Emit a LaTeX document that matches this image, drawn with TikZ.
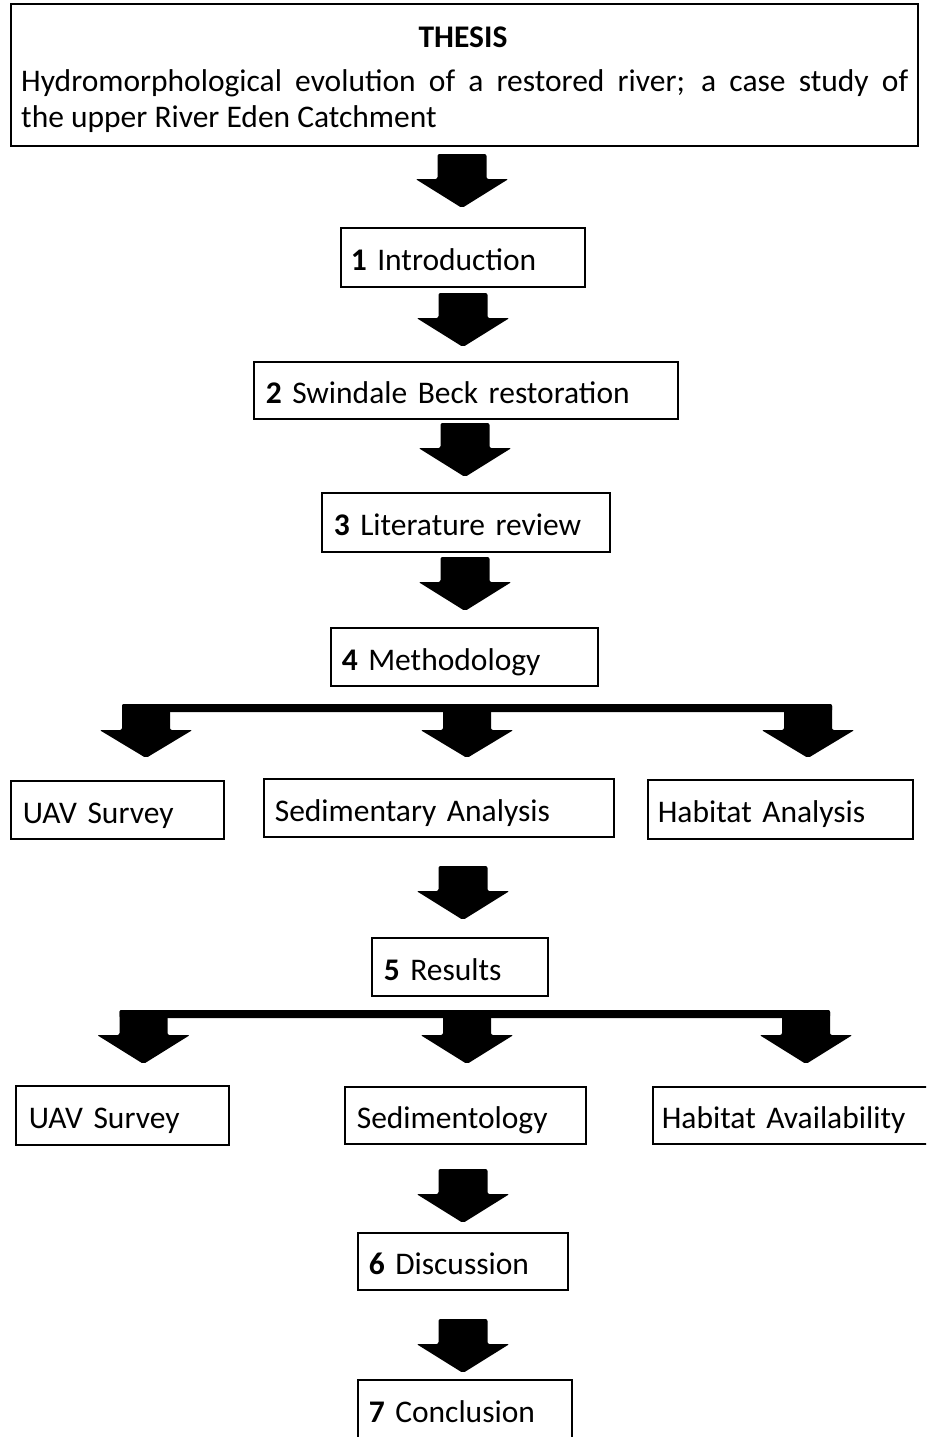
\documentclass[tikz,border=0pt]{standalone}
\usepackage{fontspec}
\setmainfont{Carlito}
\newcommand\blockarrow[2]{%
  \fill[rounded corners=2pt] ({#1-24.5},{#2}) -- ({#1+24.5},{#2}) -- ({#1+24.5},{#2+25}) -- ({#1+46.5},{#2+25}) -- ({#1},{#2+54}) -- ({#1-46.5},{#2+25}) -- ({#1-24.5},{#2+25}) -- cycle;}
\newcommand\shaftarrow[4]{% #1 centre; #2 top; #3 head start; #4 tip
  \fill[rounded corners=2pt] ({#1-24},{#2}) -- ({#1+24},{#2}) -- ({#1+24},{#3}) -- ({#1+46.5},{#3}) -- ({#1},{#4}) -- ({#1-46.5},{#3}) -- ({#1-24},{#3}) -- cycle;}
\newcommand\brancharrows[6]{% #1,#2,#3 centres; #4 bar top; #5 head start; #6 tip
  \fill[rounded corners=2pt] ({#1-24},{#4}) rectangle ({#3+24},{#4+8});
  \shaftarrow{#1}{#4}{#5}{#6}
  \shaftarrow{#2}{#4+4}{#5}{#6}
  \shaftarrow{#3}{#4}{#5}{#6}}
\tikzset{
  txt/.style={font=\fontsize{31.5pt}{38pt}\selectfont},
  tbox/.style={txt, draw, line width=1.6pt, anchor=north west, align=left, inner ysep=0pt,
    text height=27pt, text depth=0pt},
}
\begin{document}
\begin{tikzpicture}[x=1pt,y=-1pt]
\useasboundingbox (0,0) rectangle (926,1437);
\clip (0,0) rectangle (926,1437);
% title
\node[draw, line width=1.6pt, anchor=north west, minimum width=907pt, minimum height=142pt, inner sep=0pt] (thesis) at (10,3) {};
\node[txt, anchor=base, inner sep=0pt] (thesishead) at (463,48) {\bfseries THESIS};
\node[txt, anchor=base west, inner sep=0pt] (thesisl1) at (21,91) {\makebox[887pt][s]{Hydromorphological evolution of a restored river; a case study of}};
\node[txt, anchor=base west, inner sep=0pt] (thesisl2) at (21,127) {the upper River Eden Catchment};
% chain
\blockarrow{462}{154}
\node[tbox, minimum width=244pt, minimum height=59pt, text width=224pt, inner xsep=10pt] (intro) at (340,227) {\textbf{1} Introduction};
\blockarrow{463}{293}
\node[tbox, minimum width=424pt, minimum height=57pt, text width=400pt, inner xsep=12pt] (swin) at (253,361) {\textbf{2} Swindale Beck restoration};
\blockarrow{465}{423}
\node[tbox, minimum width=288pt, minimum height=59pt, text width=264pt, inner xsep=12pt] (lit) at (321,492) {\textbf{3} Literature review};
\blockarrow{465}{557}
\node[tbox, minimum width=267pt, minimum height=58pt, text width=245pt, inner xsep=11pt] (meth) at (330,627) {\textbf{4} Methodology};
\brancharrows{146}{467}{808}{704}{730}{758}
\node[tbox, minimum width=213pt, minimum height=58pt, text width=189pt, inner xsep=12pt] (uav1) at (10,780) {UAV Survey};
\node[tbox, minimum width=350pt, minimum height=58pt, text width=328pt, inner xsep=11pt] (sed1) at (263,778) {Sedimentary Analysis};
\node[tbox, minimum width=265pt, minimum height=59pt, text width=245pt, inner xsep=10pt] (hab1) at (647,779) {Habitat Analysis};
\blockarrow{463}{866}
\node[tbox, minimum width=176pt, minimum height=58pt, text width=152pt, inner xsep=12pt] (res) at (371,937) {\textbf{5} Results};
\brancharrows{143.5}{467}{806}{1010}{1035}{1064}
\node[tbox, minimum width=213pt, minimum height=59pt, text width=187pt, inner xsep=13pt] (uav2) at (15,1085) {UAV Survey};
\node[tbox, minimum width=241pt, minimum height=57pt, text width=217pt, inner xsep=12pt] (sed2) at (344,1086) {Sedimentology};
\node[tbox, minimum width=290pt, minimum height=57pt, text width=272pt, inner xsep=9pt] (hab2) at (652,1086) {Habitat Availability};
\blockarrow{463}{1169}
\node[tbox, minimum width=210pt, minimum height=57pt, text width=188pt, inner xsep=11pt] (disc) at (357,1232) {\textbf{6} Discussion};
\blockarrow{463}{1319}
\node[tbox, minimum width=214pt, minimum height=59pt, text width=192pt, inner xsep=11pt] (conc) at (357,1379) {\textbf{7} Conclusion};
\end{tikzpicture}
\end{document}
